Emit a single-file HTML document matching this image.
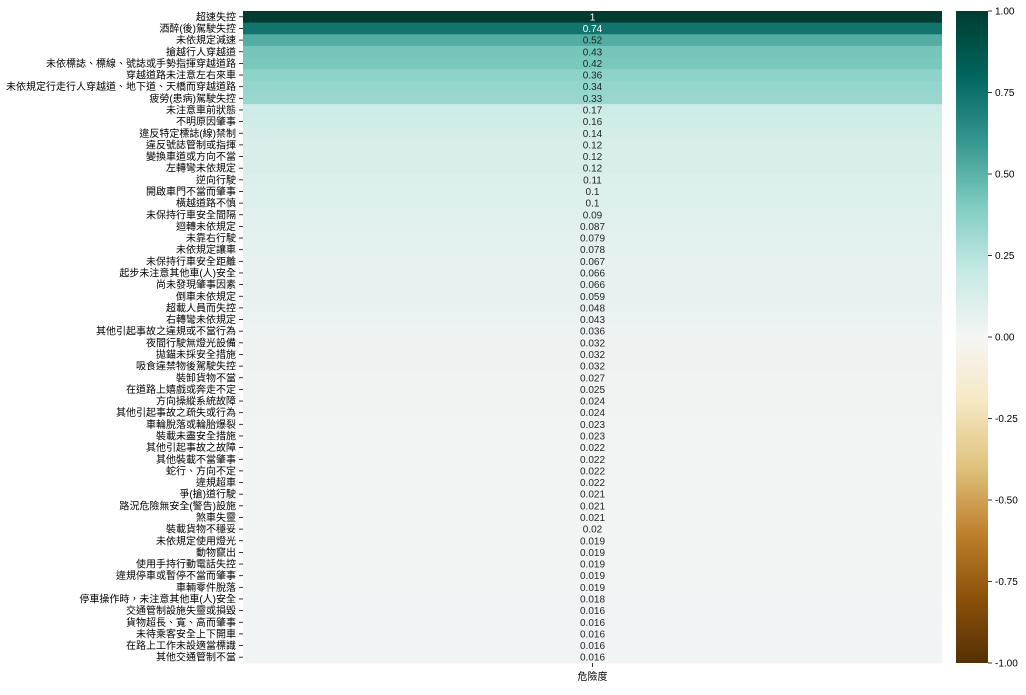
<!DOCTYPE html>
<html><head><meta charset="utf-8"><style>
html,body{margin:0;padding:0;background:#fff;}
svg text{font-family:"Liberation Sans","Noto Sans CJK TC",sans-serif;font-size:10px;}
</style></head><body>
<svg id="chart" width="1026" height="690" xmlns="http://www.w3.org/2000/svg">
<defs><linearGradient id="cbg" x1="0" y1="1" x2="0" y2="0"></linearGradient></defs>
<g id="cells"></g><g id="ylabels"></g><g id="cbar"></g>
</svg>
<script>
const categories=["超速失控","酒醉(後)駕駛失控","未依規定減速","搶越行人穿越道","未依標誌、標線、號誌或手勢指揮穿越道路","穿越道路未注意左右來車","未依規定行走行人穿越道、地下道、天橋而穿越道路","疲勞(患病)駕駛失控","未注意車前狀態","不明原因肇事","違反特定標誌(線)禁制","違反號誌管制或指揮","變換車道或方向不當","左轉彎未依規定","逆向行駛","開啟車門不當而肇事","橫越道路不慎","未保持行車安全間隔","迴轉未依規定","未靠右行駛","未依規定讓車","未保持行車安全距離","起步未注意其他車(人)安全","尚未發現肇事因素","倒車未依規定","超載人員而失控","右轉彎未依規定","其他引起事故之違規或不當行為","夜間行駛無燈光設備","拋錨未採安全措施","吸食違禁物後駕駛失控","裝卸貨物不當","在道路上嬉戲或奔走不定","方向操縱系統故障","其他引起事故之疏失或行為","車輪脫落或輪胎爆裂","裝載未盡安全措施","其他引起事故之故障","其他裝載不當肇事","蛇行、方向不定","違規超車","爭(搶)道行駛","路況危險無安全(警告)設施","煞車失靈","裝載貨物不穩妥","未依規定使用燈光","動物竄出","使用手持行動電話失控","違規停車或暫停不當而肇事","車輛零件脫落","停車操作時，未注意其他車(人)安全","交通管制設施失靈或損毀","貨物超長、寬、高而肇事","未待乘客安全上下開車","在路上工作未設適當標識","其他交通管制不當"];
const values=[1,0.74,0.52,0.43,0.42,0.36,0.34,0.33,0.17,0.16,0.14,0.12,0.12,0.12,0.11,0.1,0.1,0.09,0.087,0.079,0.078,0.067,0.066,0.066,0.059,0.048,0.043,0.036,0.032,0.032,0.032,0.027,0.025,0.024,0.024,0.023,0.023,0.022,0.022,0.022,0.022,0.021,0.021,0.021,0.02,0.019,0.019,0.019,0.019,0.019,0.018,0.016,0.016,0.016,0.016,0.016];
const cbTicks=[1,0.75,0.5,0.25,0,-0.25,-0.5,-0.75,-1];
const cbTickLabels=["1.00","0.75","0.50","0.25","0.00","-0.25","-0.50","-0.75","-1.00"];
const xLabel="危險度";
const stops=["#543005","#8c510a","#bf812d","#dfc27d","#f6e8c3","#f5f5f5","#c7eae5","#80cdc1","#35978f","#01665e","#003c30"];
const NS="http://www.w3.org/2000/svg";
const X0=243,X1=942,Y0=11,Y1=663;
const rowH=(Y1-Y0)/categories.length;
function yPos(i){return Y0+i*rowH;}
function cbY(v){return Y1-(v+1)/2*(Y1-Y0);}
function hex(h){return [1,3,5].map(k=>parseInt(h.substr(k,2),16));}
function cmap(v){let t=(v+1)/2*10;let i=Math.min(9,Math.floor(t));let f=t-i;let a=hex(stops[i]),b=hex(stops[i+1]);return a.map((c,k)=>Math.round(c+(b[k]-c)*f));}
function el(tag,attrs,p){const e=document.createElementNS(NS,tag);for(const k in attrs)e.setAttribute(k,attrs[k]);p.appendChild(e);return e;}
const cells=document.getElementById('cells'),yl=document.getElementById('ylabels'),cb=document.getElementById('cbar');
values.forEach((v,i)=>{
 const c=cmap(v);
 const r=el('rect',{x:X0,y:yPos(i),width:X1-X0,height:rowH+0.5,fill:`rgb(${c})`},cells);
 
 
 const lum=(0.299*c[0]+0.587*c[1]+0.114*c[2]);
 const t=el('text',{x:(X0+X1)/2,y:yPos(i)+rowH/2+3.5,'text-anchor':'middle',fill:lum<128?'#fff':'#262626'},cells);
 t.textContent=String(v);
 
 
 const l=el('text',{x:X0-7,y:yPos(i)+rowH/2+3.5,'text-anchor':'end',fill:'#000'},yl);
 l.textContent=categories[i];
 
 
 el('line',{x1:X0-4,x2:X0,y1:yPos(i)+rowH/2,y2:yPos(i)+rowH/2,stroke:'#000','stroke-width':0.8},yl);
});
const xt=el('line',{x1:(X0+X1)/2,x2:(X0+X1)/2,y1:Y1,y2:Y1+4,stroke:'#000','stroke-width':0.8},yl);
const xl=el('text',{x:(X0+X1)/2,y:Y1+17,'text-anchor':'middle'},yl);
xl.textContent=xLabel;


const g=document.getElementById('cbg');
stops.forEach((s,i)=>{el('stop',{offset:(i/10*100)+'%','stop-color':s},g);});
const cr=el('rect',{x:956,y:Y0,width:32,height:Y1-Y0,fill:'url(#cbg)'},cb);


cbTicks.forEach((v,i)=>{
 el('line',{x1:988,x2:992,y1:cbY(v),y2:cbY(v),stroke:'#000','stroke-width':0.8},cb);
 const t=el('text',{x:995,y:cbY(v)+3.5},cb);
 t.textContent=cbTickLabels[i];
 
 
});
</script>
</body></html>
